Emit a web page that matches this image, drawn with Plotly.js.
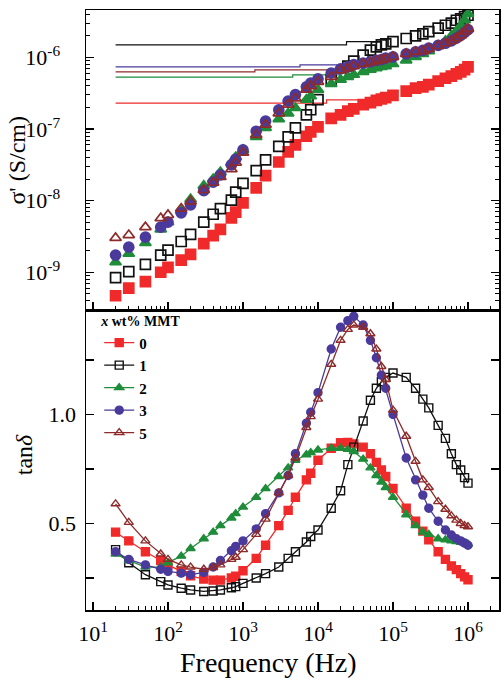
<!DOCTYPE html>
<html>
<head>
<meta charset="utf-8">
<script src="https://cdn.plot.ly/plotly-3.0.1.min.js"></script>
<style>html,body{margin:0;padding:0;background:#fff;}#chart{width:501px;height:688px;}</style>
</head>
<body>
<div id="chart"></div>
<script>
// Frequencies (Hz)
var freq = [20,30,50,80,100,150,200,300,400,500,700,800,1000,1500,2000,3000,4000,5000,7000,8000,
  10000,15000,20000,25000,30000,40000,50000,60000,70000,80000,
  100000,150000,200000,250000,300000,400000,500000,600000,700000,800000,900000,1000000];

// sigma' (S/cm), top panel
var sigma0 = [4.7e-10,6.0e-10,7.4e-10,1.0e-9,1.17e-9,1.48e-9,1.78e-9,2.51e-9,3.24e-9,3.98e-9,5.75e-9,6.92e-9,9.3e-9,1.51e-8,2.24e-8,3.47e-8,4.79e-8,6.03e-8,7.94e-8,9.12e-8,
  1.07e-7,1.41e-7,1.58e-7,1.78e-7,1.91e-7,2.19e-7,2.34e-7,2.51e-7,2.63e-7,2.75e-7,
  2.95e-7,3.39e-7,3.72e-7,3.89e-7,4.17e-7,4.68e-7,5.13e-7,5.5e-7,5.89e-7,6.31e-7,6.76e-7,7.41e-7];
var sigma1 = [8.4e-10,1.02e-9,1.29e-9,1.74e-9,2.04e-9,2.69e-9,3.39e-9,5.01e-9,6.46e-9,7.76e-9,1.02e-8,1.32e-8,1.74e-8,2.63e-8,3.72e-8,5.75e-8,7.76e-8,1.04e-7,1.58e-7,1.86e-7,
  2.57e-7,4.9e-7,6.03e-7,7.59e-7,8.91e-7,1.08e-6,1.27e-6,1.41e-6,1.5e-6,1.55e-6,
  1.66e-6,1.84e-6,2.0e-6,2.14e-6,2.29e-6,2.57e-6,2.82e-6,3.02e-6,3.31e-6,3.47e-6,3.72e-6,3.89e-6];
var sigma2 = [1.38e-9,1.82e-9,2.57e-9,3.98e-9,5.01e-9,7.24e-9,1.05e-8,1.62e-8,2.0e-8,2.51e-8,3.39e-8,4.07e-8,5.13e-8,7.76e-8,1.04e-7,1.38e-7,1.66e-7,1.97e-7,2.57e-7,2.88e-7,
  3.55e-7,4.27e-7,4.9e-7,5.37e-7,5.75e-7,6.31e-7,6.76e-7,7.08e-7,7.41e-7,7.59e-7,
  8.13e-7,9.12e-7,1.02e-6,1.12e-6,1.23e-6,1.45e-6,1.7e-6,2.0e-6,2.34e-6,2.75e-6,3.31e-6,4.07e-6];
var sigma3 = [1.74e-9,2.24e-9,3.09e-9,4.27e-9,5.01e-9,6.76e-9,8.71e-9,1.38e-8,1.82e-8,2.29e-8,3.16e-8,3.8e-8,5.13e-8,9.33e-8,1.29e-7,1.86e-7,2.45e-7,3.02e-7,3.89e-7,4.37e-7,
  5.01e-7,6.03e-7,6.92e-7,7.41e-7,7.94e-7,8.32e-7,8.71e-7,9.12e-7,9.33e-7,9.77e-7,
  1.02e-6,1.12e-6,1.2e-6,1.26e-6,1.35e-6,1.48e-6,1.58e-6,1.7e-6,1.86e-6,2.04e-6,2.24e-6,2.45e-6];
var sigma5 = [3.02e-9,3.31e-9,4.27e-9,5.69e-9,6.31e-9,7.76e-9,9.77e-9,1.41e-8,1.78e-8,2.14e-8,2.75e-8,3.39e-8,4.68e-8,8.32e-8,1.15e-7,1.66e-7,2.19e-7,2.69e-7,3.55e-7,3.98e-7,
  4.57e-7,5.37e-7,6.61e-7,7.08e-7,7.59e-7,8.13e-7,8.51e-7,8.91e-7,9.23e-7,9.55e-7,
  1.02e-6,1.12e-6,1.2e-6,1.23e-6,1.32e-6,1.45e-6,1.58e-6,1.7e-6,1.86e-6,2.04e-6,2.29e-6,2.51e-6];

// step lines in the top panel
var lineX0 = [20,13000,13000,63000], lineY0 = [2.3e-7,2.3e-7,2.55e-7,2.55e-7];
var lineX1 = [20,24000,24000,63000], lineY1 = [1.5e-6,1.5e-6,1.66e-6,1.66e-6];
var lineX2 = [20,4600,4600,20000],   lineY2 = [5.3e-7,5.3e-7,5.7e-7,5.7e-7];
var lineX3 = [20,5750,5750,20000],   lineY3 = [7.4e-7,7.4e-7,7.9e-7,7.9e-7];
var lineX5 = [20,1440,1440,20000],   lineY5 = [6.3e-7,6.3e-7,6.7e-7,6.7e-7];

// tan delta, bottom panel
var tan0 = [0.46,0.42,0.37,0.33,0.31,0.28,0.26,0.245,0.24,0.24,0.25,0.258,0.283,0.34,0.40,0.49,0.56,0.62,0.70,0.73,
  0.79,0.845,0.87,0.872,0.865,0.85,0.82,0.78,0.745,0.715,
  0.66,0.57,0.51,0.465,0.425,0.37,0.335,0.305,0.288,0.27,0.255,0.242];
var tan1 = [0.38,0.32,0.265,0.233,0.218,0.203,0.195,0.188,0.19,0.195,0.205,0.21,0.225,0.25,0.27,0.30,0.34,0.37,0.415,0.44,
  0.47,0.57,0.65,0.77,0.85,0.97,1.065,1.12,1.15,1.17,
  1.19,1.17,1.12,1.07,1.03,0.95,0.89,0.82,0.77,0.745,0.71,0.685];
var tan2 = [0.36,0.33,0.30,0.30,0.32,0.35,0.385,0.43,0.46,0.49,0.525,0.545,0.575,0.62,0.66,0.715,0.755,0.79,0.815,0.825,
  0.837,0.845,0.845,0.84,0.83,0.795,0.755,0.72,0.69,0.665,
  0.62,0.54,0.49,0.46,0.45,0.43,0.425,0.42,0.417,0.413,0.41,0.405];
var tan3 = [0.37,0.335,0.31,0.29,0.28,0.272,0.265,0.275,0.30,0.33,0.375,0.395,0.42,0.475,0.545,0.64,0.72,0.82,0.96,1.01,
  1.10,1.30,1.40,1.43,1.45,1.41,1.34,1.26,1.18,1.12,
  1.00,0.80,0.70,0.63,0.57,0.51,0.47,0.447,0.43,0.42,0.41,0.40];
var tan5 = [0.59,0.505,0.42,0.36,0.335,0.31,0.30,0.29,0.298,0.31,0.335,0.345,0.38,0.45,0.52,0.64,0.72,0.80,0.94,0.99,
  1.07,1.23,1.34,1.39,1.41,1.40,1.37,1.30,1.22,1.16,
  1.02,0.90,0.785,0.70,0.665,0.60,0.565,0.535,0.515,0.50,0.49,0.485];

var seriesNames = ['0','1','2','3','5'];
var xTickVals = [10,100,1000,10000,100000,1000000];
var xTickText = ['10<sup>1</sup>','10<sup>2</sup>','10<sup>3</sup>','10<sup>4</sup>','10<sup>5</sup>','10<sup>6</sup>'];
var yTopTickVals = [1e-9,1e-8,1e-7,1e-6];
var yTopTickText = ['10<sup>-9</sup>','10<sup>-8</sup>','10<sup>-7</sup>','10<sup>-6</sup>'];
var yBotTickVals = [0.5,1.0];
var yBotTickText = ['0.5','1.0'];
var yBotMinorVals = [0.25,0.75,1.25];

var colors = ['#f02a2a','#111111','#1f8c3a','#4a3a9c','#8e2a2a'];
var symbols = ['square','square-open','triangle-up','circle','triangle-up-open'];
var sig = [sigma0,sigma1,sigma2,sigma3,sigma5];
var tans = [tan0,tan1,tan2,tan3,tan5];
var lx = [lineX0,lineX1,lineX2,lineX3,lineX5];
var ly = [lineY0,lineY1,lineY2,lineY3,lineY5];

function minorVals(lo, hi){ var v=[]; for (var e=lo;e<hi;e++){ for (var k=2;k<=9;k++){ v.push(k*Math.pow(10,e)); } } return v; }

var FONT = "'Liberation Serif', 'Times New Roman', Times, serif";
var traces = [];
for (var i=0;i<5;i++){
  traces.push({x:lx[i], y:ly[i], xaxis:'x2', yaxis:'y2', mode:'lines', showlegend:false,
    line:{color:colors[i], width:1.2}, hoverinfo:'skip'});
}
for (var i=0;i<5;i++){
  traces.push({x:freq, y:sig[i], xaxis:'x2', yaxis:'y2', mode:'markers', showlegend:false,
    marker:{symbol:symbols[i], size:10, color:colors[i], line:{color:colors[i], width:1.7}}});
}
for (var i=0;i<5;i++){
  traces.push({x:freq, y:tans[i], xaxis:'x', yaxis:'y', mode:'lines+markers', name:seriesNames[i],
    line:{color:colors[i], width:1.3},
    marker:{symbol:symbols[i], size:8, color:colors[i], line:{color:colors[i], width:1.4}}});
}

var axisCommon = {showline:true, linecolor:'#000', linewidth:1.5, ticks:'inside', tickcolor:'#000',
  tickwidth:1.3, showgrid:false, zeroline:false, tickfont:{family:FONT, size:22, color:'#000'}};

var xr = [0.9067, 6.4133];
var layout = {
  width:501, height:688, margin:{l:86, r:2, t:10, b:78},
  paper_bgcolor:'#fff', plot_bgcolor:'#fff', font:{family:FONT, color:'#000'},
  showlegend:true,
  legend:{x:0.032, y:0.503, xanchor:'left', yanchor:'top', bgcolor:'rgba(0,0,0,0)',
    title:{text:'<i>x</i> wt% MMT', font:{family:FONT, size:14, color:'#000', weight:'bold'}},
    font:{family:FONT, size:15, color:'#000', weight:'bold'}, tracegroupgap:0, itemwidth:30},
  xaxis: Object.assign({}, axisCommon, {type:'log', range:xr, anchor:'y', mirror:true,
    tickmode:'array', tickvals:xTickVals, ticktext:xTickText, ticklen:8, ticklabelstandoff:3,
    minor:{tickmode:'array', tickvals:minorVals(1,7), ticks:'inside', ticklen:4, tickcolor:'#000', tickwidth:1}}),
  xaxis2: Object.assign({}, axisCommon, {type:'log', range:xr, anchor:'y2', mirror:true, matches:'x',
    showticklabels:false, tickmode:'array', tickvals:xTickVals, ticklen:8,
    minor:{tickmode:'array', tickvals:minorVals(1,7), ticks:'inside', ticklen:4, tickcolor:'#000', tickwidth:1}}),
  yaxis: Object.assign({}, axisCommon, {domain:[0,0.5], range:[0.103,1.479], anchor:'x', mirror:'ticks',
    tickmode:'array', tickvals:yBotTickVals, ticktext:yBotTickText, ticklen:8, ticklabelstandoff:4,
    minor:{tickmode:'array', tickvals:yBotMinorVals, ticks:'inside', ticklen:8, tickcolor:'#000', tickwidth:1.3}}),
  yaxis2: Object.assign({}, axisCommon, {type:'log', domain:[0.5,1], range:[-9.527,-5.337], anchor:'x2', mirror:'ticks',
    tickmode:'array', tickvals:yTopTickVals, ticktext:yTopTickText, ticklen:8, ticklabelstandoff:20,
    minor:{tickmode:'array', tickvals:minorVals(-10,-5), ticks:'inside', ticklen:4, tickcolor:'#000', tickwidth:1}}),
  annotations:[
    {text:'Frequency (Hz)', xref:'paper', yref:'paper', x:0.44, y:-0.088, xanchor:'center', yanchor:'middle',
      showarrow:false, font:{family:FONT, size:28, color:'#000'}},
    {text:"σ' (S/cm)", xref:'paper', yref:'paper', x:-0.168, y:0.75, xanchor:'center', yanchor:'middle',
      textangle:-90, showarrow:false, font:{family:FONT, size:24, color:'#000'}},
    {text:'tan<i>δ</i>', xref:'paper', yref:'paper', x:-0.15, y:0.258, xanchor:'center', yanchor:'middle',
      textangle:-90, showarrow:false, font:{family:FONT, size:24, color:'#000'}}
  ]
};

Plotly.newPlot('chart', traces, layout, {displayModeBar:false, staticPlot:true});
</script>
</body>
</html>
